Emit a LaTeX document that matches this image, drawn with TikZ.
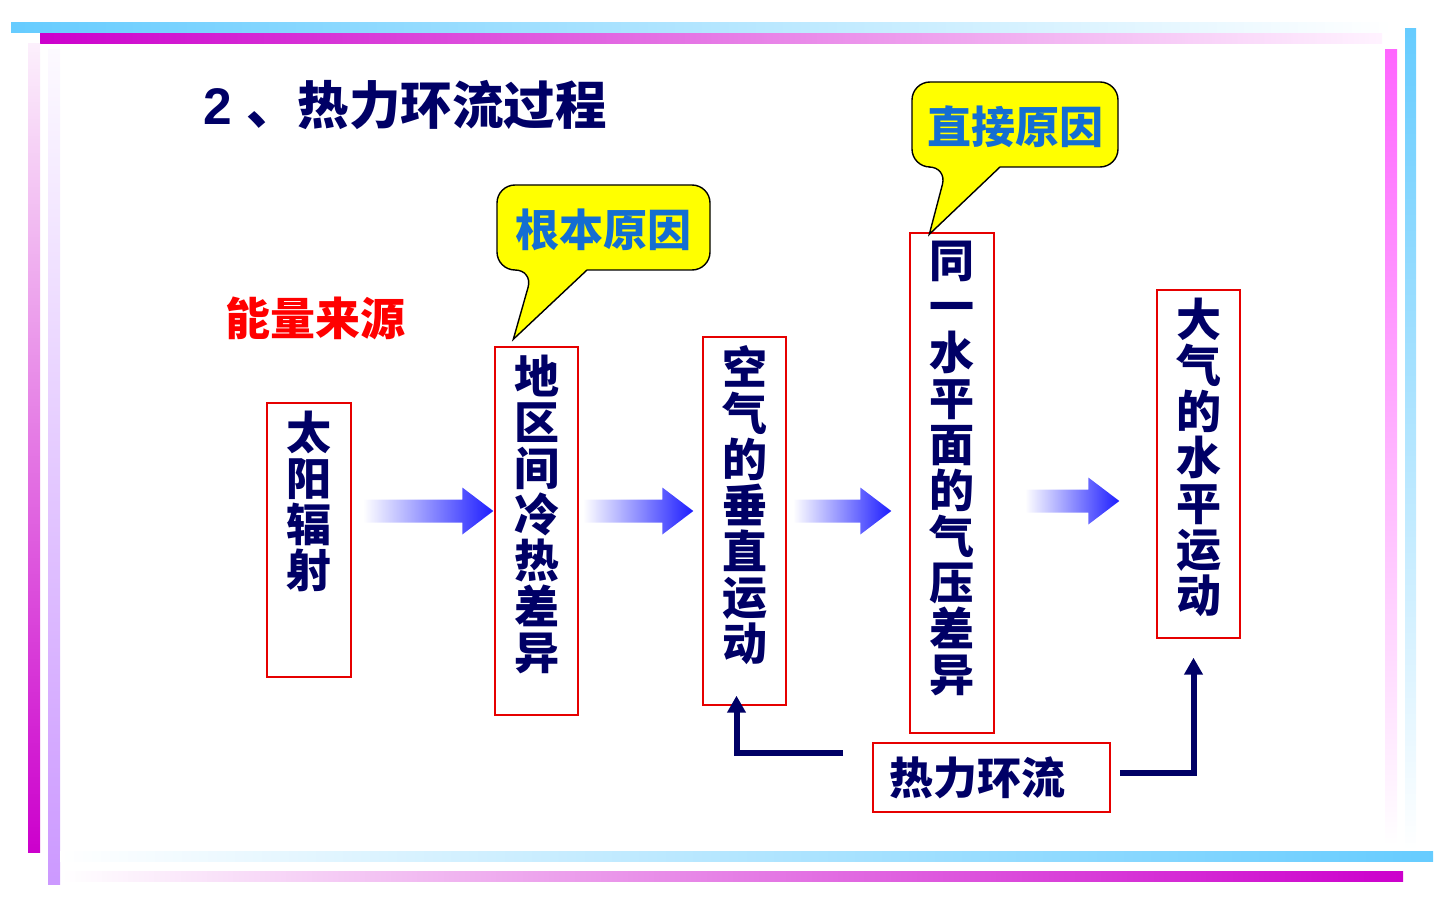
\documentclass[tikz,border=0pt]{standalone}
\usepackage{fontspec}
\setmainfont{Liberation Sans}
\newfontfamily\cjk{Noto Sans CJK SC}
\usetikzlibrary{arrows.meta,calc}

\definecolor{navytext}{RGB}{0,0,102}
\definecolor{boxred}{RGB}{230,0,0}
\definecolor{notered}{RGB}{255,0,0}
\definecolor{noteblue}{RGB}{20,110,210}
\definecolor{noteyellow}{RGB}{255,255,0}
\definecolor{flowblue}{RGB}{30,30,255}
\definecolor{barcyan}{RGB}{102,204,255}
\definecolor{barmagenta}{RGB}{204,0,204}
\definecolor{barpink}{RGB}{255,102,255}
\definecolor{barlilac}{RGB}{204,153,255}

% fat shaded arrow from #1 to #2 (same height)
\newcommand{\fatarrow}[2]{%
  \shade[left color=white,right color=flowblue]
    let \p1=#1, \p2=#2 in
    (\x1,\y1+11.5pt) -- (\x2-31pt,\y1+11.5pt) -- (\x2-31pt,\y1+23.5pt)
    -- (\x2,\y1) -- (\x2-31pt,\y1-23.5pt) -- (\x2-31pt,\y1-11.5pt)
    -- (\x1,\y1-11.5pt) -- cycle;}

\begin{document}
\begin{tikzpicture}[x=1pt,y=-1pt,
    stage/.style={draw=boxred,line width=1.4pt,inner sep=0pt},
    vtext/.style={font=\cjk\bfseries\fontsize{45}{46}\selectfont,text=navytext,
      align=center,inner sep=0pt,anchor=north,yshift=-9pt},
    htext/.style={font=\cjk\bfseries\fontsize{44}{46}\selectfont,text=navytext,
      inner sep=0pt,anchor=west,xshift=17pt},
    bubble/.style={draw=black,line width=1.4pt,fill=noteyellow},
    notetext/.style={font=\cjk\bfseries\fontsize{44}{46}\selectfont,text=noteblue,inner sep=0pt},
    back/.style={draw=navytext,line width=6pt,-{Triangle[width=18pt,length=17pt]}}]

  \useasboundingbox (0,0) rectangle (1440,901);

  % frame bars
  \shade[left color=barcyan,right color=white] (11,23) rectangle (1392,33);
  \shade[left color=barmagenta,right color=barpink!8] (40,34) rectangle (1382,44);
  \shade[top color=barmagenta!6,bottom color=barmagenta] (28,44) rectangle (40,852);
  \shade[top color=barlilac!5,bottom color=barlilac] (48,50) rectangle (60,884);
  \shade[top color=barpink,bottom color=white] (1385,50) rectangle (1397,845);
  \shade[top color=barcyan,bottom color=white] (1405,29) rectangle (1416,850);
  \shade[left color=white,right color=barcyan] (60,851) rectangle (1433,861);
  \shade[left color=white,right color=barmagenta] (62,871) rectangle (1403,881);

  % title and source
  \node[anchor=west,inner sep=0pt,text=navytext,font=\bfseries\fontsize{51.5}{52}\selectfont]
    (ttl) at (203,105) {2 {\cjk、热力环流过程}};
  \node[inner sep=0pt,text=notered,font=\cjk\bfseries\fontsize{45}{46}\selectfont]
    (src) at (315,318) {能量来源};

  % stages
  \node[stage,minimum width=84pt,minimum height=274pt,
    label={[vtext]north:太\\阳\\辐\\射}] (sun) at (309,540) {};
  \node[stage,minimum width=83pt,minimum height=368pt,
    label={[vtext]north:地\\区\\间\\冷\\热\\差\\异}] (diff) at (536.5,531) {};
  \node[stage,minimum width=83pt,minimum height=368pt,
    label={[vtext]north:空\\气\\的\\垂\\直\\运\\动}] (vert) at (744.5,521) {};
  \node[stage,minimum width=84pt,minimum height=500pt,
    label={[vtext]north:同\\一\\水\\平\\面\\的\\气\\压\\差\\异}] (press) at (952,483) {};
  \node[stage,minimum width=83pt,minimum height=348pt,
    label={[vtext]north:大\\气\\的\\水\\平\\运\\动}] (horiz) at (1198.5,464) {};
  \node[stage,minimum width=237pt,minimum height=69pt,
    label={[htext]west:热力环流}] (cycle) at (991.5,777.5) {};

  % flow arrows
  \coordinate (f1) at (363,511);
  \coordinate (f2) at (583,511);
  \coordinate (f3) at (793,511);
  \coordinate (f4) at (1025,501);
  \fatarrow{($(f1)$)}{($(diff.west |- f1)+(-1,0)$)}
  \fatarrow{($(f2)$)}{($(vert.west |- f2)+(-9,0)$)}
  \fatarrow{($(f3)$)}{($(press.west |- f3)+(-18,0)$)}
  \fatarrow{($(f4)$)}{($(horiz.west |- f4)+(-37,0)$)}

  % callouts
  \draw[bubble] (497,228) [rounded corners=18pt] -- (497,270) -- (533,270) [sharp corners]
    -- ($(diff.north west)+(19,-7)$) -- (587,270) [rounded corners=18pt]
    -- (710,270) -- (710,185) -- (497,185) -- cycle;
  \node[notetext] (root) at (603,230) {根本原因};
  \draw[bubble] (912,125) [rounded corners=18pt] -- (912,167) -- (947,167) [sharp corners]
    -- ($(press.north west)+(20,2)$) -- (1000,167) [rounded corners=18pt]
    -- (1118,167) -- (1118,82) -- (912,82) -- cycle;
  \node[notetext] (direct) at (1015,127) {直接原因};

  % circulation feedback
  \coordinate (backL) at (843,753);
  \coordinate (backR) at (1120,773);
  \draw[back,shorten >=-10pt] (backL) -| ([xshift=-8pt]vert.south);
  \draw[back] (backR) -| ([xshift=-5pt,yshift=-19pt]horiz.south);

\end{tikzpicture}
\end{document}
